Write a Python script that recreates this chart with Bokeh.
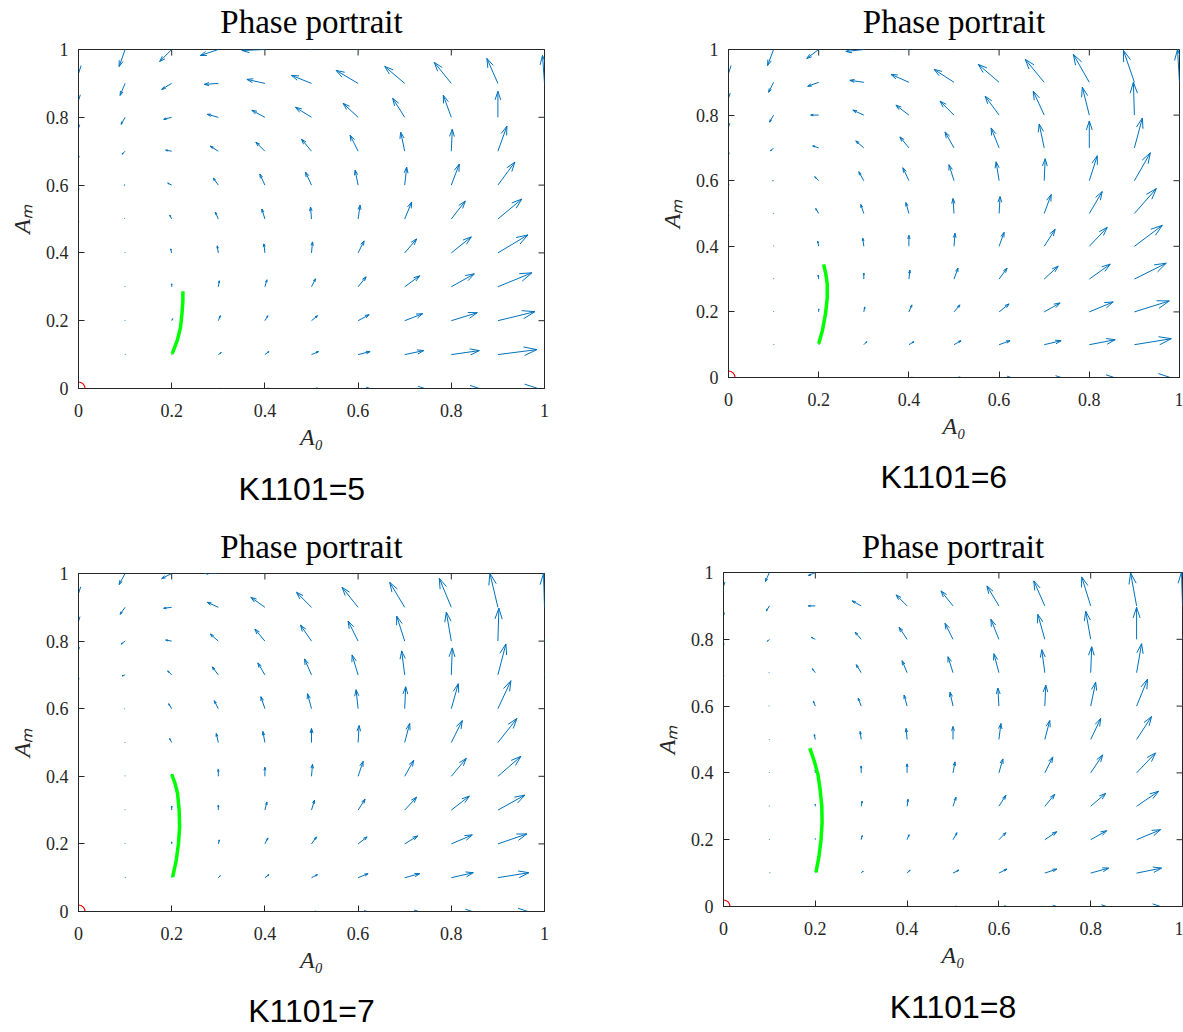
import numpy as np
from bokeh.plotting import figure
from bokeh.models import Range1d, FixedTicker, LinearAxis, Title
from bokeh.layouts import column, row
from bokeh.embed import file_html
from bokeh.resources import INLINE

# ---------------- data ----------------
GRID = [0.0, 0.1, 0.2, 0.3, 0.4, 0.5, 0.6, 0.7, 0.8, 0.9, 1.0]
TICKS = [0, 0.2, 0.4, 0.6, 0.8, 1]
TICK_LABELS = ["0", "0.2", "0.4", "0.6", "0.8", "1"]
TITLE = "Phase portrait"
CAPTIONS = ["K1101=5", "K1101=6", "K1101=7", "K1101=8"]
X_LABEL = "A₀"
Y_LABEL = "Aₘ"
EQ_X = [0]
EQ_Y = [0]

# quiver arrow components as read (rows: A_m = 1.0 down to 0.0, columns: A_0 = 0 .. 1)
# U in 1/READ_W of the x span, V in 1/READ_H of the y span
READ_W = [466, 452.6, 466, 460]
READ_H = [339, 329, 338.4, 334.4]

U1 = [
    [0, -6, -12, -18, -23, -26, -27, -25, -21, -15, -8],
    [0, -5, -10, -14, -18, -20, -22, -20, -17, -11, -2],
    [0, -4, -8, -11, -13, -16, -15, -12, -8, 0, 9],
    [0, -3, -6, -8, -9, -10, -8, -4, 1, 9, 18],
    [0, -1, -4, -5, -5, -6, -3, 2, 8, 17, 26],
    [0, -0.5, -2, -3, -3, -1, 2, 7, 14, 24, 33],
    [0, 0, -1, -1, -1, 1, 6, 12, 20, 30, 40],
    [0, 0, 0, 1, 2, 4, 8, 15, 23, 34, 44],
    [0, 0, 1, 2, 3, 6, 11, 18, 26, 37, 47],
    [0, 0.5, 0.5, 3, 4, 7, 12, 19, 28, 39, 50],
    [0, 0, 0, 2, 4, 7, 12, 20, 28, 40, 52],
]
V1 = [
    [-24, -17, -12, -6, -1, 5, 11, 17, 22, 26, 29],
    [-17, -12, -6, -1, 4, 8, 13, 17, 21, 25, 28],
    [-11, -7, -2, 3, 7, 10, 14, 19, 22, 26, 28],
    [-7, -3, 1, 5, 9, 12, 16, 19, 22, 25, 27],
    [-5, 0, 2, 7, 11, 13, 15, 18, 21, 23, 25],
    [-3, 0.5, 4, 7, 10, 12, 14, 17, 18, 20, 22],
    [-2, 0.5, 4, 7, 9, 11, 12, 14, 16, 18, 19],
    [-1, 0.5, 3, 6, 7, 8, 10, 11, 13, 14, 15],
    [-0.5, 0.5, 2, 5, 5, 5, 6, 7, 8, 9, 10],
    [0, 0.5, 0.5, 2, 3, 3, 3, 4, 4, 5, 5],
    [0, 0, 0, 0, 0, 0, 0, 0, 0, 0, 0],
]
U2 = [
    [0, -6, -12, -18, -22, -24, -24, -22, -18, -12, -4],
    [0, -5, -11, -14, -18, -20, -21, -19, -16, -11, -2],
    [0, -4, -8, -11, -13, -14, -14, -11, -7, -1, 10],
    [0, -3, -6, -8, -9, -9, -8, -5, 0, 8, 18],
    [0, -1, -4, -5, -6, -5, -3, 1, 8, 16, 26],
    [0, -0.5, -3, -3, -3, -1, 1, 7, 13, 22, 33],
    [0, 0, -1, -1, 0, 1, 5, 11, 18, 28, 40],
    [0, 0, -0.5, 0, 1, 4, 8, 14, 21, 32, 44],
    [0, 0, 0, 1, 3, 6, 10, 16, 24, 35, 47],
    [0, 0.5, 0.5, 3, 5, 7, 11, 17, 26, 37, 48],
    [0, 0, 0, 2, 4, 7, 12, 17, 25, 36, 48],
]
V2 = [
    [-24, -16, -9, -2, 3, 9, 15, 21, 26, 30, 33],
    [-16, -10, -4, 2, 8, 13, 18, 23, 28, 32, 33],
    [-12, -7, 0, 5, 10, 14, 19, 24, 28, 33, 33],
    [-7, -3, 2, 7, 11, 16, 20, 24, 27, 30, 32],
    [-5, 0, 4, 9, 13, 16, 19, 22, 25, 28, 30],
    [-3, 0.5, 5, 9, 11, 15, 17, 19, 22, 25, 27],
    [-2, 0.5, 5, 8, 11, 13, 14, 17, 19, 21, 23],
    [-1, 0.5, 4, 6, 9, 11, 11, 13, 15, 16, 18],
    [0, 0.5, 3, 5, 7, 7, 8, 9, 10, 11, 12],
    [0, 0.5, 0.5, 3, 3, 4, 4, 4, 5, 6, 6],
    [0, 0, 0, 0, 0, 0, 0, 0, 0, 0, 0],
]
U3 = [
    [0, -6, -10, -15, -18, -19, -19, -18, -14, -9, -2],
    [0, -5, -8, -11, -14, -15, -16, -15, -12, -8, -1],
    [0, -4, -6, -8, -10, -11, -10, -8, -5, 1, 10],
    [0, -3, -4, -6, -7, -7, -6, -3, 1, 8, 17],
    [0, -0.5, -3, -4, -4, -4, -2, 1, 7, 13, 22],
    [0, 0, -2, -2, -2, 0, 1, 5, 11, 19, 28],
    [0, 0, 0, 0, 0, 1, 5, 9, 15, 23, 32],
    [0, 0, 0, 0, 2, 3, 7, 12, 18, 27, 36],
    [0, 0, 0, 1, 3, 5, 9, 13, 21, 29, 38],
    [0, 0.5, 0.5, 2, 4, 6, 10, 15, 22, 31, 40],
    [0, 0, 0, 1, 3, 5, 9, 14, 21, 30, 40],
]
V3 = [
    [-20, -11, -5, 1, 6, 12, 18, 24, 29, 33, 35],
    [-14, -7, -1, 5, 10, 15, 20, 25, 29, 34, 34],
    [-9, -3, 1, 7, 12, 16, 20, 25, 29, 33, 33],
    [-5, -1, 4, 8, 12, 16, 20, 24, 27, 31, 32],
    [-3, 0, 5, 8, 12, 15, 19, 22, 25, 28, 30],
    [-2, 0.5, 4, 9, 11, 14, 17, 19, 22, 24, 27],
    [-1, 0.5, 2, 7, 9, 12, 15, 16, 18, 20, 22],
    [0, 0.5, 4, 5, 8, 10, 11, 13, 14, 15, 17],
    [0, 0.5, 2, 4, 6, 7, 7, 8, 9, 10, 11],
    [0, 0.5, 0.5, 2, 3, 3, 4, 4, 5, 5, 6],
    [0, 0, 0, 0, 0, 0, 0, 0, 0, 0, 0],
]
U4 = [
    [0, -4, -7, -10, -13, -14, -14, -13, -11, -7, -2],
    [0, -3, -7, -9, -11, -12, -12, -11, -9, -6, -1],
    [0, -2, -4, -6, -8, -8, -8, -7, -5, 0, 6],
    [0, -0.5, -3, -5, -5, -5, -5, -3, 1, 5, 12],
    [0, -0.5, -2, -3, -3, -3, -1, 1, 5, 11, 17],
    [0, 0, -1, -1, -1, 0, 2, 5, 10, 15, 22],
    [0, 0, 0, 0, 0, 2, 4, 8, 12, 19, 26],
    [0, 0, 0, 1, 1, 3, 7, 10, 15, 22, 29],
    [0, 0, 0, 1, 2, 4, 7, 12, 16, 24, 31],
    [0, 0.5, 0.5, 2, 3, 6, 8, 12, 18, 25, 32],
    [0, 0, 0, 1, 2, 4, 8, 12, 16, 24, 32],
]
V4 = [
    [-14, -9, -3, 3, 9, 14, 20, 25, 30, 34, 36],
    [-10, -5, 0, 5, 11, 15, 20, 25, 29, 33, 34],
    [-6, -2, 2, 7, 12, 16, 20, 25, 28, 32, 34],
    [-4, 0, 4, 8, 12, 16, 19, 23, 26, 29, 32],
    [-2, 0, 5, 8, 11, 14, 18, 21, 24, 27, 30],
    [-1, 0.5, 5, 8, 11, 13, 16, 19, 21, 23, 27],
    [0, 0.5, 3, 7, 9, 11, 14, 16, 18, 20, 23],
    [0, 0.5, 2, 5, 7, 9, 11, 12, 13, 15, 17],
    [0, 0.5, 1, 4, 5, 7, 7, 8, 9, 10, 11],
    [0, 0.5, 0.5, 2, 3, 3, 4, 4, 5, 5, 6],
    [0, 0, 0, 0, 0, 0, 0, 0, 0, 0, 0],
]

# trajectories (green)
TRAJ1_X = [0.201, 0.212, 0.219, 0.222, 0.224, 0.224]
TRAJ1_Y = [0.102, 0.142, 0.181, 0.220, 0.260, 0.287]
TRAJ2_X = [0.200, 0.208, 0.215, 0.219, 0.219, 0.216, 0.211]
TRAJ2_Y = [0.103, 0.142, 0.193, 0.243, 0.284, 0.314, 0.345]
TRAJ3_X = [0.202, 0.2095, 0.2145, 0.217, 0.216, 0.2125, 0.207, 0.200]
TRAJ3_Y = [0.102, 0.150, 0.200, 0.250, 0.300, 0.350, 0.380, 0.406]
TRAJ4_X = [0.2015, 0.208, 0.2125, 0.2148, 0.2142, 0.2105, 0.206, 0.198, 0.188]
TRAJ4_Y = [0.102, 0.150, 0.200, 0.250, 0.300, 0.350, 0.394, 0.434, 0.474]

PANELS = [
    (U1, V1, TRAJ1_X, TRAJ1_Y),
    (U2, V2, TRAJ2_X, TRAJ2_Y),
    (U3, V3, TRAJ3_X, TRAJ3_Y),
    (U4, V4, TRAJ4_X, TRAJ4_Y),
]

# ---------------- style / layout ----------------
BLUE = "#0072BD"
AXIS_COLOR = "#262626"
SERIF = "Liberation Serif"
SANS = "Liberation Sans"

# (width, height, left, right, top, bottom, title gap, caption kind, caption gap, caption offset)
GEOM = [
    (655, 524, 78, 111, 49, 136, 10, "title", 32, 160),
    (528, 524, 72, 4, 48, 147, 10, "title", 30, 152),
    (650, 508, 78, 106, 49, 121, 9, "axis", 17, 0),
    (533, 508, 72, 1, 48, 126, 8, "axis", 18, 0),
]


def style_axis(ax):
    ax.ticker = FixedTicker(ticks=TICKS)
    ax.major_tick_in = 6
    ax.major_tick_out = 0
    ax.minor_tick_line_color = None
    ax.major_tick_line_color = AXIS_COLOR
    ax.axis_line_color = AXIS_COLOR
    ax.major_label_overrides = {t: s for t, s in zip(TICKS, TICK_LABELS)}
    ax.major_label_text_font = SERIF
    ax.major_label_text_font_size = "18px"
    ax.major_label_text_color = AXIS_COLOR
    ax.axis_label_text_font = SERIF
    ax.axis_label_text_font_style = "italic"
    ax.axis_label_text_font_size = "24px"
    ax.axis_label_text_color = AXIS_COLOR


def text_axis(text, font, size, gap):
    return LinearAxis(ticker=FixedTicker(ticks=[]), axis_label=text,
                      axis_label_standoff=gap, axis_label_text_font=font,
                      axis_label_text_font_size=size,
                      axis_label_text_font_style="normal",
                      axis_label_text_color="black", axis_line_color=None,
                      major_tick_out=0, major_tick_in=0, major_label_standoff=0,
                      minor_tick_line_color=None, major_tick_line_color=None)


def draw_quiver(p, U, V, sw, sh):
    U = np.array(U, float)[::-1].ravel()
    V = np.array(V, float)[::-1].ravel()
    X, Y = np.meshgrid(GRID, GRID)
    X = X.ravel()
    Y = Y.ravel()
    keep = (U != 0) | (V != 0)
    X, Y, U, V = X[keep], Y[keep], U[keep], V[keep]
    x1 = X + U / sw
    y1 = Y + V / sh
    a, b = 0.33, 0.33
    hx1 = x1 - a * (U + b * V) / sw
    hy1 = y1 - a * (V - b * U) / sh
    hx2 = x1 - a * (U - b * V) / sw
    hy2 = y1 - a * (V + b * U) / sh
    p.segment(X, Y, x1, y1, line_color=BLUE, line_width=1)
    xs = [[hx1[i], x1[i], hx2[i]] for i in range(len(X))]
    ys = [[hy1[i], y1[i], hy2[i]] for i in range(len(X))]
    p.multi_line(xs=xs, ys=ys, line_color=BLUE, line_width=1)


figs = []
for i, (U, V, tx, ty) in enumerate(PANELS):
    w, h, bl, br, bt, bb, tgap, ckind, cgap, coff = GEOM[i]
    p = figure(width=w, height=h, x_range=Range1d(0, 1), y_range=Range1d(0, 1),
               output_backend="svg", toolbar_location=None,
               min_border_left=bl, min_border_right=br,
               min_border_top=bt, min_border_bottom=bb)
    p.frame_align = False
    p.grid.visible = False
    p.outline_line_color = AXIS_COLOR
    p.outline_line_width = 1
    p.background_fill_color = "white"
    p.border_fill_color = "white"

    style_axis(p.xaxis[0])
    style_axis(p.yaxis[0])
    p.xaxis[0].axis_label = X_LABEL
    p.yaxis[0].axis_label = Y_LABEL
    p.xaxis[0].major_label_standoff = 15
    p.xaxis[0].axis_label_standoff = 4
    p.yaxis[0].major_label_standoff = 10
    p.yaxis[0].axis_label_standoff = 8

    # title above the frame
    p.add_layout(text_axis(TITLE, SERIF, "33px", tgap), "above")

    # caption below the x axis
    if ckind == "title":
        cap = Title(text=CAPTIONS[i], align="left", text_font=SANS,
                    text_font_size="32px", text_font_style="normal",
                    text_color="black", standoff=cgap, offset=coff)
        p.add_layout(cap, "below")
    else:
        p.add_layout(text_axis(CAPTIONS[i], SANS, "32px", cgap), "below")

    # box ticks on the top and right edges (inward, half clipped by the frame)
    p.scatter(TICKS, [1] * len(TICKS), marker="dash", size=12, angle=np.pi / 2,
              line_color=AXIS_COLOR, line_width=1)
    p.scatter([1] * len(TICKS), TICKS, marker="dash", size=12,
              line_color=AXIS_COLOR, line_width=1)

    draw_quiver(p, U, V, READ_W[i], READ_H[i])
    p.line(tx, ty, line_color="#00FF00", line_width=3.5)
    p.scatter(EQ_X, EQ_Y, marker="circle", size=13, fill_color=None,
              line_color="red", line_width=1.2)
    figs.append(p)

layout = column(row(figs[0], figs[1]), row(figs[2], figs[3]))
open("out.html", "w").write(file_html(layout, INLINE))
